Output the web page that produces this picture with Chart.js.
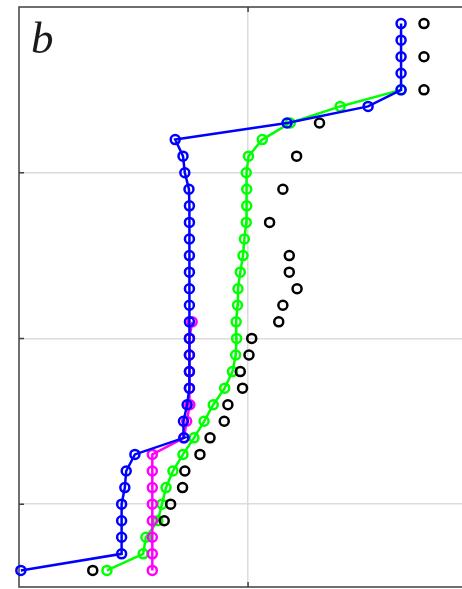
<!DOCTYPE html>
<html lang="en">
  <head>
    <meta charset="UTF-8" />
    <title>Panel b</title>
    <script src="https://cdn.jsdelivr.net/npm/chart.js@4/dist/chart.umd.min.js"></script>
    <style>
      html,
      body {
        margin: 0;
        padding: 0;
        background: #fff;
        overflow: hidden;
      }
      .panel {
        position: relative;
        width: 462px;
        height: 589px;
      }
      #panel-b {
        display: block;
      }
      .panel-label {
        position: absolute;
        left: 31px;
        top: 16px;
        font: italic 45px "Liberation Serif", serif;
        line-height: 1;
        color: #1a1a1a;
      }
    </style>
  </head>
  <body>
    <div class="panel">
      <canvas id="panel-b" width="462" height="589"></canvas>
      <div class="panel-label">b</div>
    </div>

    <script>
      // row levels, bottom to top
      const rowLevels = [
        1, 2, 3, 4, 5, 6, 7, 8, 9, 10, 11, 12, 13, 14, 15, 16, 17, 18, 19, 20,
        21, 22, 23, 24, 25, 26, 27, 28, 29, 30, 31, 32, 33, 34,
      ];
      const yGridTicks = [5, 15, 25];
      const xGridTicks = [50];
      // the panel is cut on the right, so only part of the 0..100 range shows
      const xShownMax = 96.7;

      // series values (x for each row level, null = no point)
      const blueX = [
        0.4, 22.4, 22.4, 22.4, 22.4, 23.1, 23.4, 25.3, 36.0, 35.9, 36.7, 37.2,
        37.2, 37.2, 37.2, 37.2, 37.2, 37.2, 37.2, 37.2, 37.2, 37.2, 37.2, 37.1,
        36.2, 35.8, 34.1, 58.5, 76.2, 83.4, 83.4, 83.4, 83.4, 83.4,
      ];
      const magentaX = [
        29.1, 29.1, 29.1, 29.1, 29.1, 29.1, 29.1, 29.1, 36.0, 36.6, 37.3, 37.2,
        37.2, 37.2, 37.2, 37.8,
      ];
      const greenX = [
        19.2, 27.1, 27.7, 30.3, 31.2, 32.1, 33.6, 35.8, 38.2, 40.4, 42.4, 44.9,
        46.6, 47.3, 47.5, 47.4, 47.7, 47.8, 48.3, 48.9, 49.2, 49.6, 49.7, 49.7,
        49.6, 50.1, 53.1, 59.2, 70.1, 83.4,
      ];
      const blackX = [
        16.1, null, null, 31.7, 33.1, 35.7, 36.2, 39.5, 41.7, 44.8, 45.6, 48.8,
        48.3, 50.2, 50.8, 56.7, 57.6, 60.7, 59.0, 59.0, null, 54.7, null, 57.6,
        null, 60.6, null, 65.6, null, 88.4, null, 88.4, null, 88.4,
      ];

      function toPoints(xs) {
        return xs
          .map((x, i) => (x === null ? null : { x: x, y: rowLevels[i] }))
          .filter((p) => p !== null);
      }

      function series(xs, color, withLine) {
        return {
          data: toPoints(xs),
          borderColor: color,
          backgroundColor: "transparent",
          borderWidth: 2.5,
          pointRadius: 4.5,
          pointBorderWidth: 2.5,
          pointBackgroundColor: "transparent",
          pointBorderColor: color,
          showLine: withLine,
          tension: 0,
          clip: false,
        };
      }

      // open box frame (left/top/bottom) + inward tick marks
      const framePlugin = {
        id: "frame",
        beforeDatasetsDraw(chart) {
          const { ctx, chartArea: a, scales } = chart;
          ctx.save();
          ctx.strokeStyle = "#404040";
          ctx.lineWidth = 1.5;
          ctx.beginPath();
          ctx.moveTo(chart.width, a.top);
          ctx.lineTo(a.left, a.top);
          ctx.lineTo(a.left, a.bottom);
          ctx.lineTo(chart.width, a.bottom);
          yGridTicks.forEach((v) => {
            const y = scales.y.getPixelForValue(v);
            ctx.moveTo(a.left, y);
            ctx.lineTo(a.left + 5, y);
          });
          xGridTicks.forEach((v) => {
            const x = scales.x.getPixelForValue(v);
            ctx.moveTo(x, a.bottom);
            ctx.lineTo(x, a.bottom - 5);
            ctx.moveTo(x, a.top);
            ctx.lineTo(x, a.top + 5);
          });
          ctx.stroke();
          ctx.restore();
        },
      };

      const ctx = document.getElementById("panel-b").getContext("2d");
      new Chart(ctx, {
        type: "scatter",
        data: {
          datasets: [
            series(blueX, "#0000ff", true),
            series(magentaX, "#ff00ff", true),
            series(blackX, "#000000", false),
            series(greenX, "#00ff00", true),
          ],
        },
        options: {
          responsive: false,
          animation: false,
          layout: {
            autoPadding: false,
            padding: { left: 19, right: 0, top: 7, bottom: 2 },
          },
          plugins: {
            legend: { display: false },
            tooltip: { enabled: false },
          },
          scales: {
            x: {
              type: "linear",
              min: 0,
              max: xShownMax,
              afterBuildTicks(axis) {
                axis.ticks = xGridTicks.map((v) => ({ value: v }));
              },
              afterFit(axis) {
                axis.height = 0;
              },
              ticks: { display: false, padding: 0 },
              border: { display: false },
              grid: { color: "#dcdcdc", lineWidth: 1.5, drawTicks: false },
            },
            y: {
              type: "linear",
              min: 0,
              max: 35,
              afterBuildTicks(axis) {
                axis.ticks = yGridTicks.map((v) => ({ value: v }));
              },
              afterFit(axis) {
                axis.width = 0;
              },
              ticks: { display: false, padding: 0 },
              border: { display: false },
              grid: { color: "#dcdcdc", lineWidth: 1.5, drawTicks: false },
            },
          },
        },
        plugins: [framePlugin],
      });
    </script>
  </body>
</html>
